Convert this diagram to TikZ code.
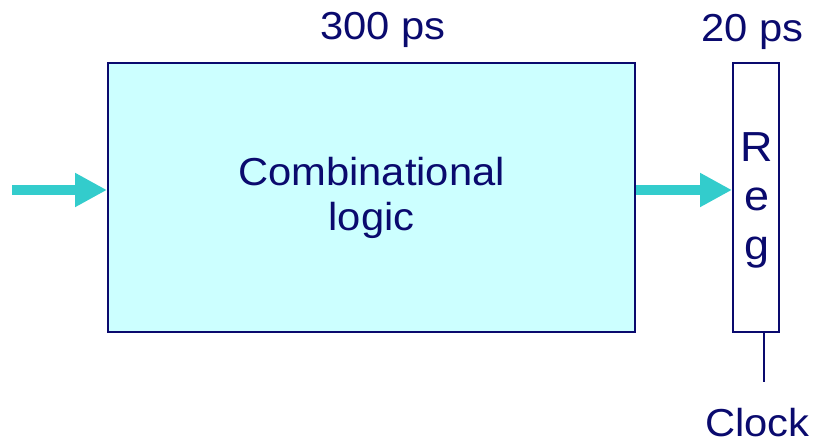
\documentclass[tikz,border=0pt]{standalone}
\usepackage{fontspec}
\setmainfont{Liberation Sans}[FakeStretch=1.07]
\usetikzlibrary{arrows.meta}
\definecolor{navy}{HTML}{0A0A6E}
\definecolor{logicfill}{HTML}{CCFFFF}
\definecolor{wire}{HTML}{33CCCC}
\begin{document}
\begin{tikzpicture}[x=1pt, y=1pt,
    block/.style={draw=navy, line width=2pt, inner sep=0pt, text=navy, align=center},
    bus/.style={draw=wire, line width=10pt, -{Triangle[length=32pt, width=32pt]}},
    lbl/.style={text=navy, font=\fontsize{39}{45}\selectfont, inner sep=0pt}]
  \useasboundingbox (0, 0) rectangle (817, 444);
  % blocks
  \node[block, fill=logicfill, minimum width=527pt, minimum height=269pt,
        font=\fontsize{39}{45}\selectfont] (logic) at (371.5, 246.5) {Combinational\\logic};
  \node[block, fill=white, minimum width=46pt, minimum height=269pt] (reg) at (756, 246.5) {};
  \node[lbl, align=center, font=\fontsize{42}{49}\selectfont] (treg) at (757, 243.5) {R\\e\\g};
  % delays
  \node[lbl, anchor=base] (tlogic) at (383, 404) {300 ps};
  \node[lbl, anchor=base] (tregd) at (752.5, 402) {20 ps};
  % wires
  \coordinate (in) at (12, 254);
  \draw[bus] (in) -- (in -| logic.west);
  \draw[bus] (in -| logic.east) -- (in -| reg.west);
  \coordinate (clk) at (764, 62);
  \draw[navy, line width=2pt] (reg.south -| clk) -- (clk);
  \node[lbl, anchor=base] (tclk) at (757.5, 7) {Clock};
\end{tikzpicture}
\end{document}
